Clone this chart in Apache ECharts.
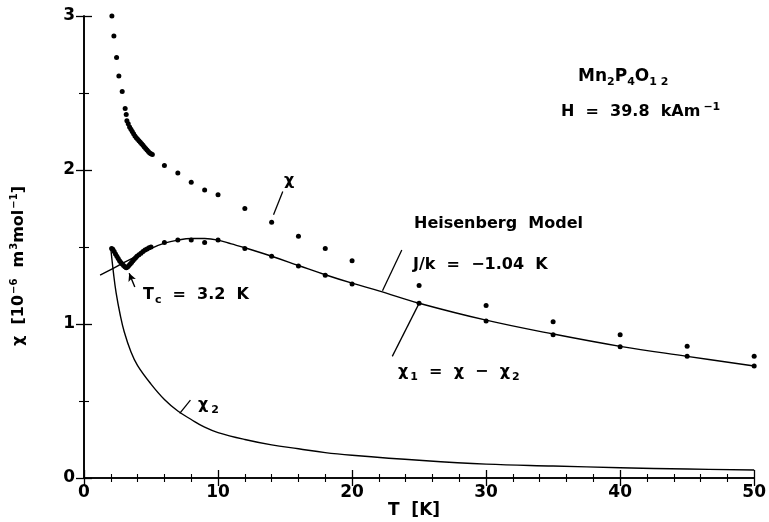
<!DOCTYPE html>
<html>
<head>
<meta charset="utf-8">
<script src="https://cdn.jsdelivr.net/npm/echarts@6/dist/echarts.min.js"></script>
<style>
  html, body { margin: 0; padding: 0; background: #fff; }
  #chart { width: 769px; height: 522px; }
</style>
</head>
<body>
<div id="chart"></div>
<script>
// measured chi (upper points)
var chiT = [2.08, 2.23, 2.43, 2.6, 2.85, 3.07, 3.15,
  3.2, 3.3, 3.4, 3.5, 3.6, 3.7, 3.8, 3.9, 4.0, 4.1, 4.2, 4.3, 4.4, 4.5, 4.6, 4.7, 4.8, 4.9, 5.0, 5.1,
  6, 7, 8, 9, 10, 12, 14, 16, 18, 20, 25, 30, 35, 40, 45, 50];
var chiV = [3.0, 2.87, 2.73, 2.61, 2.51, 2.40, 2.36,
  2.32, 2.30, 2.28, 2.265, 2.25, 2.235, 2.22, 2.21, 2.20, 2.19, 2.18, 2.17, 2.16, 2.15, 2.14, 2.13, 2.12, 2.11, 2.105, 2.10,
  2.03, 1.98, 1.92, 1.87, 1.84, 1.75, 1.66, 1.57, 1.49, 1.41, 1.25, 1.12, 1.015, 0.93, 0.855, 0.79];

// chi1 = chi - chi2 (lower points)
var chi1T = [2.06, 2.15, 2.25, 2.35, 2.45, 2.55, 2.65, 2.75, 2.85, 2.95, 3.05, 3.15, 3.25, 3.35, 3.45, 3.55,
  3.65, 3.75, 3.85, 3.95, 4.1, 4.25, 4.4, 4.55, 4.7, 4.85, 5.0,
  6, 7, 8, 9, 10, 12, 14, 16, 18, 20, 25, 30, 35, 40, 45, 50];
var chi1V = [1.49, 1.485, 1.47, 1.455, 1.44, 1.425, 1.41, 1.40, 1.39, 1.38, 1.372, 1.366, 1.37, 1.38, 1.39, 1.40,
  1.41, 1.42, 1.43, 1.44, 1.45, 1.46, 1.47, 1.48, 1.487, 1.495, 1.50,
  1.53, 1.545, 1.545, 1.53, 1.545, 1.49, 1.44, 1.377, 1.316, 1.26, 1.134, 1.02, 0.93, 0.853, 0.79, 0.727];

// Heisenberg model curve
var heisT = [1.2, 2, 3, 4, 5, 6, 7, 8, 9, 10, 11, 12, 14, 16, 18, 20, 22, 25, 30, 35, 40, 45, 50];
var heisV = [1.318, 1.353, 1.40, 1.445, 1.49, 1.525, 1.545, 1.555, 1.555, 1.545, 1.52, 1.495, 1.44, 1.38, 1.32, 1.265, 1.215, 1.135, 1.025, 0.935, 0.855, 0.79, 0.727];

// chi2 curve
var chi2T = [2.0, 2.2, 2.4, 2.7, 3.0, 3.5, 4.0, 5.0, 6.0, 7.0, 8.0, 9.0, 10, 12, 14, 16, 18, 20, 25, 30, 35, 40, 45, 50];
var chi2V = [1.49, 1.33, 1.20, 1.06, 0.95, 0.82, 0.73, 0.61, 0.51, 0.435, 0.38, 0.33, 0.295, 0.25, 0.215, 0.19, 0.165, 0.148, 0.115, 0.09, 0.078, 0.067, 0.058, 0.052];

var xTicks = [0, 10, 20, 30, 40, 50];
var yTicks = [0, 1, 2, 3];

function pairs(t, v) {
  var out = [];
  for (var i = 0; i < t.length; i++) out.push([t[i], v[i]]);
  return out;
}

var FONT = 'DejaVu Sans';
var chart = echarts.init(document.getElementById('chart'));

var axisX = function (pos, showLabel) {
  return {
    type: 'value', position: pos, min: 0, max: 50, interval: 10,
    axisLine: { show: true, lineStyle: { color: '#000', width: 1.6 } },
    axisTick: { show: true, inside: true, length: 8, lineStyle: { color: '#000', width: 1.3 } },
    minorTick: { show: true, splitNumber: 5, length: 4, lineStyle: { color: '#000', width: 1.1 } },
    splitLine: { show: false },
    axisLabel: { show: showLabel, color: '#000', fontFamily: FONT, fontWeight: 'bold', fontSize: 17, margin: 6,
      formatter: function (v) { return xTicks.indexOf(v) >= 0 ? String(v) : ''; } }
  };
};
var axisY = function (pos, showLabel) {
  return {
    type: 'value', position: pos, min: 0, max: 3, interval: 1,
    axisLine: { show: true, lineStyle: { color: '#000', width: 1.6 } },
    axisTick: { show: true, inside: true, length: 8, lineStyle: { color: '#000', width: 1.3 } },
    minorTick: { show: true, splitNumber: 2, length: 5, lineStyle: { color: '#000', width: 1.1 } },
    splitLine: { show: false },
    axisLabel: { show: showLabel, color: '#000', fontFamily: FONT, fontWeight: 'bold', fontSize: 17, margin: 9,
      formatter: function (v) { return yTicks.indexOf(v) >= 0 ? String(v) : ''; } }
  };
};

var pointer = function (a, b) {
  return [{ coord: a }, { coord: b }];
};

var txt = function (x, y, text, size, extra) {
  var s = { text: text, x: x, y: y, fill: '#000', font: 'bold ' + size + 'px "' + FONT + '"',
    textAlign: 'left', textVerticalAlign: 'middle' };
  if (extra) for (var k in extra) s[k] = extra[k];
  return { type: 'text', style: s, z: 10 };
};

var option = {
  backgroundColor: '#fff',
  animation: false,
  grid: { left: 84, right: 13, top: 16, bottom: 44 },
  xAxis: [axisX('bottom', true), axisX('top', false)],
  yAxis: [axisY('left', true), axisY('right', false)],
  series: [
    {
      name: 'chi', type: 'scatter', data: pairs(chiT, chiV),
      symbol: 'circle', symbolSize: 5, itemStyle: { color: '#000', opacity: 1 }
    },
    {
      name: 'chi1', type: 'scatter', data: pairs(chi1T, chi1V),
      symbol: 'circle', symbolSize: 5, itemStyle: { color: '#000', opacity: 1 }
    },
    {
      name: 'Heisenberg', type: 'line', data: pairs(heisT, heisV), smooth: 0.4,
      showSymbol: false, lineStyle: { color: '#000', width: 1.4 },
      markLine: {
        silent: true, symbol: ['none', 'none'], animation: false,
        label: { show: false },
        lineStyle: { color: '#000', width: 1.3, type: 'solid' },
        data: [
          pointer([14.83, 1.86], [14.14, 1.71]),
          pointer([23.71, 1.48], [22.27, 1.216]),
          pointer([25.0, 1.134], [23.0, 0.79]),
          pointer([7.94, 0.506], [7.14, 0.42])
        ]
      }
    },
    {
      name: 'chi2', type: 'line', data: pairs(chi2T, chi2V), smooth: 0.4,
      showSymbol: false, lineStyle: { color: '#000', width: 1.4 },
      markLine: {
        silent: true, symbol: ['none', 'arrow'], symbolSize: [6, 8], animation: false,
        label: { show: false },
        lineStyle: { color: '#000', width: 1.4, type: 'solid' },
        data: [pointer([3.79, 1.24], [3.37, 1.33])]
      }
    }
  ],
  graphic: [
    txt(578, 77, '{a|Mn}{s|2}{a|P}{s|4}{a|O}{s|1 2}', 17, {
      rich: {
        a: { fontFamily: FONT, fontWeight: 'bold', fontSize: 17, fill: '#000' },
        s: { fontFamily: FONT, fontWeight: 'bold', fontSize: 11, fill: '#000', padding: [10, 0, 0, 0] }
      }
    }),
    txt(561, 112, '{a|H  =  39.8  kAm}{s|−1}', 16, {
      rich: {
        a: { fontFamily: FONT, fontWeight: 'bold', fontSize: 16, fill: '#000' },
        s: { fontFamily: FONT, fontWeight: 'bold', fontSize: 11, fill: '#000', padding: [0, 0, 10, 3] }
      }
    }),
    txt(284, 181, 'χ', 16),
    txt(414, 224, 'Heisenberg  Model', 16),
    txt(413, 265, 'J/k  =  −1.04  K', 16),
    txt(398, 372, '{a|χ}{s|1}{a|  =  χ  −  χ}{s|2}', 16, {
      rich: {
        a: { fontFamily: FONT, fontWeight: 'bold', fontSize: 16, fill: '#000' },
        s: { fontFamily: FONT, fontWeight: 'bold', fontSize: 11, fill: '#000', padding: [10, 0, 0, 2] }
      }
    }),
    txt(143, 295, '{a|T}{s|c}{a|  =  3.2  K}', 16, {
      rich: {
        a: { fontFamily: FONT, fontWeight: 'bold', fontSize: 16, fill: '#000' },
        s: { fontFamily: FONT, fontWeight: 'bold', fontSize: 11, fill: '#000', padding: [10, 0, 0, 1] }
      }
    }),
    txt(198, 405, '{a|χ}{s|2}', 16, {
      rich: {
        a: { fontFamily: FONT, fontWeight: 'bold', fontSize: 16, fill: '#000' },
        s: { fontFamily: FONT, fontWeight: 'bold', fontSize: 11, fill: '#000', padding: [10, 0, 0, 3] }
      }
    }),
    txt(414, 511, 'T  [K]', 17, { textAlign: 'center' }),
    {
      type: 'text', x: 19, y: 266, rotation: Math.PI / 2, z: 10,
      style: {
        text: '{a|χ  [10}{s|−6}{a|  m}{s|3}{a|mol}{s|−1}{a|]}', x: 0, y: 0,
        textAlign: 'center', textVerticalAlign: 'middle', fill: '#000',
        rich: {
          a: { fontFamily: FONT, fontWeight: 'bold', fontSize: 16, fill: '#000' },
          s: { fontFamily: FONT, fontWeight: 'bold', fontSize: 10, fill: '#000', padding: [0, 0, 10, 1] }
        }
      }
    }
  ]
};

chart.setOption(option);
</script>
</body>
</html>
